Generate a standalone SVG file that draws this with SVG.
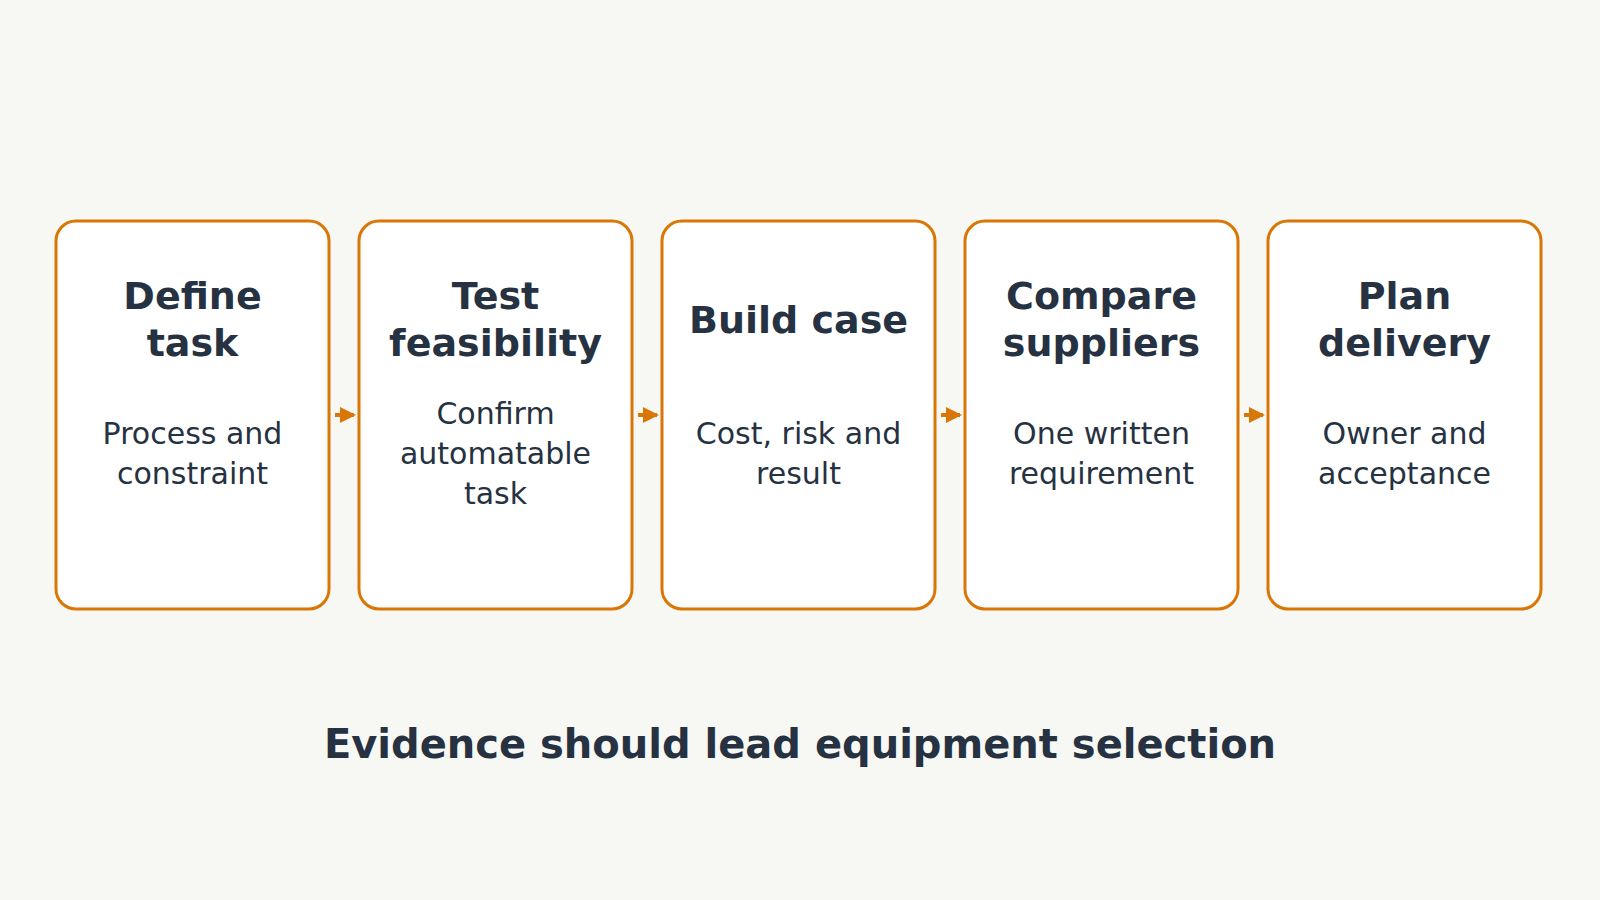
<svg xmlns="http://www.w3.org/2000/svg" width="1600" height="900" viewBox="0 0 1600 900">
<style>
.box{fill:#fff;stroke:#d97706;stroke-width:3}
.t{font-family:"DejaVu Sans",sans-serif;font-weight:bold;font-size:38px;fill:#263241;text-anchor:middle}
.b{font-family:"DejaVu Sans",sans-serif;font-size:30px;fill:#263241;text-anchor:middle}
.c{stroke:#d97706;stroke-width:4;fill:none}
</style>
<defs><marker id="a" markerWidth="4" markerHeight="4" refX="3.5" refY="2" orient="auto" markerUnits="strokeWidth"><path d="M0,0L4,2L0,4z" fill="#d97706"/></marker></defs>
<rect width="1600" height="900" fill="#f7f7f4"/>
<g id="n1"><rect class="box" x="56" y="221" width="273" height="388" rx="20"/><text class="t" x="192.5" y="309">Define</text><text class="t" x="192.5" y="356">task</text><text class="b" x="192.5" y="444">Process and</text><text class="b" x="192.5" y="484">constraint</text></g>
<g id="n2"><rect class="box" x="359" y="221" width="273" height="388" rx="20"/><text class="t" x="495.5" y="309">Test</text><text class="t" x="495.5" y="356">feasibility</text><text class="b" x="495.5" y="424">Confirm</text><text class="b" x="495.5" y="464">automatable</text><text class="b" x="495.5" y="504">task</text></g>
<g id="n3"><rect class="box" x="662" y="221" width="273" height="388" rx="20"/><text class="t" x="798.5" y="333">Build case</text><text class="b" x="798.5" y="444">Cost, risk and</text><text class="b" x="798.5" y="484">result</text></g>
<g id="n4"><rect class="box" x="965" y="221" width="273" height="388" rx="20"/><text class="t" x="1101.5" y="309">Compare</text><text class="t" x="1101.5" y="356">suppliers</text><text class="b" x="1101.5" y="444">One written</text><text class="b" x="1101.5" y="484">requirement</text></g>
<g id="n5"><rect class="box" x="1268" y="221" width="273" height="388" rx="20"/><text class="t" x="1404.5" y="309">Plan</text><text class="t" x="1404.5" y="356">delivery</text><text class="b" x="1404.5" y="444">Owner and</text><text class="b" x="1404.5" y="484">acceptance</text></g>
<g id="connectors">
<line class="c" x1="335" y1="415" x2="354" y2="415" marker-end="url(#a)"/>
<line class="c" x1="638" y1="415" x2="657" y2="415" marker-end="url(#a)"/>
<line class="c" x1="941" y1="415" x2="960" y2="415" marker-end="url(#a)"/>
<line class="c" x1="1244" y1="415" x2="1263" y2="415" marker-end="url(#a)"/>
</g>
<text class="t" x="800" y="758" style="font-size:40px">Evidence should lead equipment selection</text>
</svg>
